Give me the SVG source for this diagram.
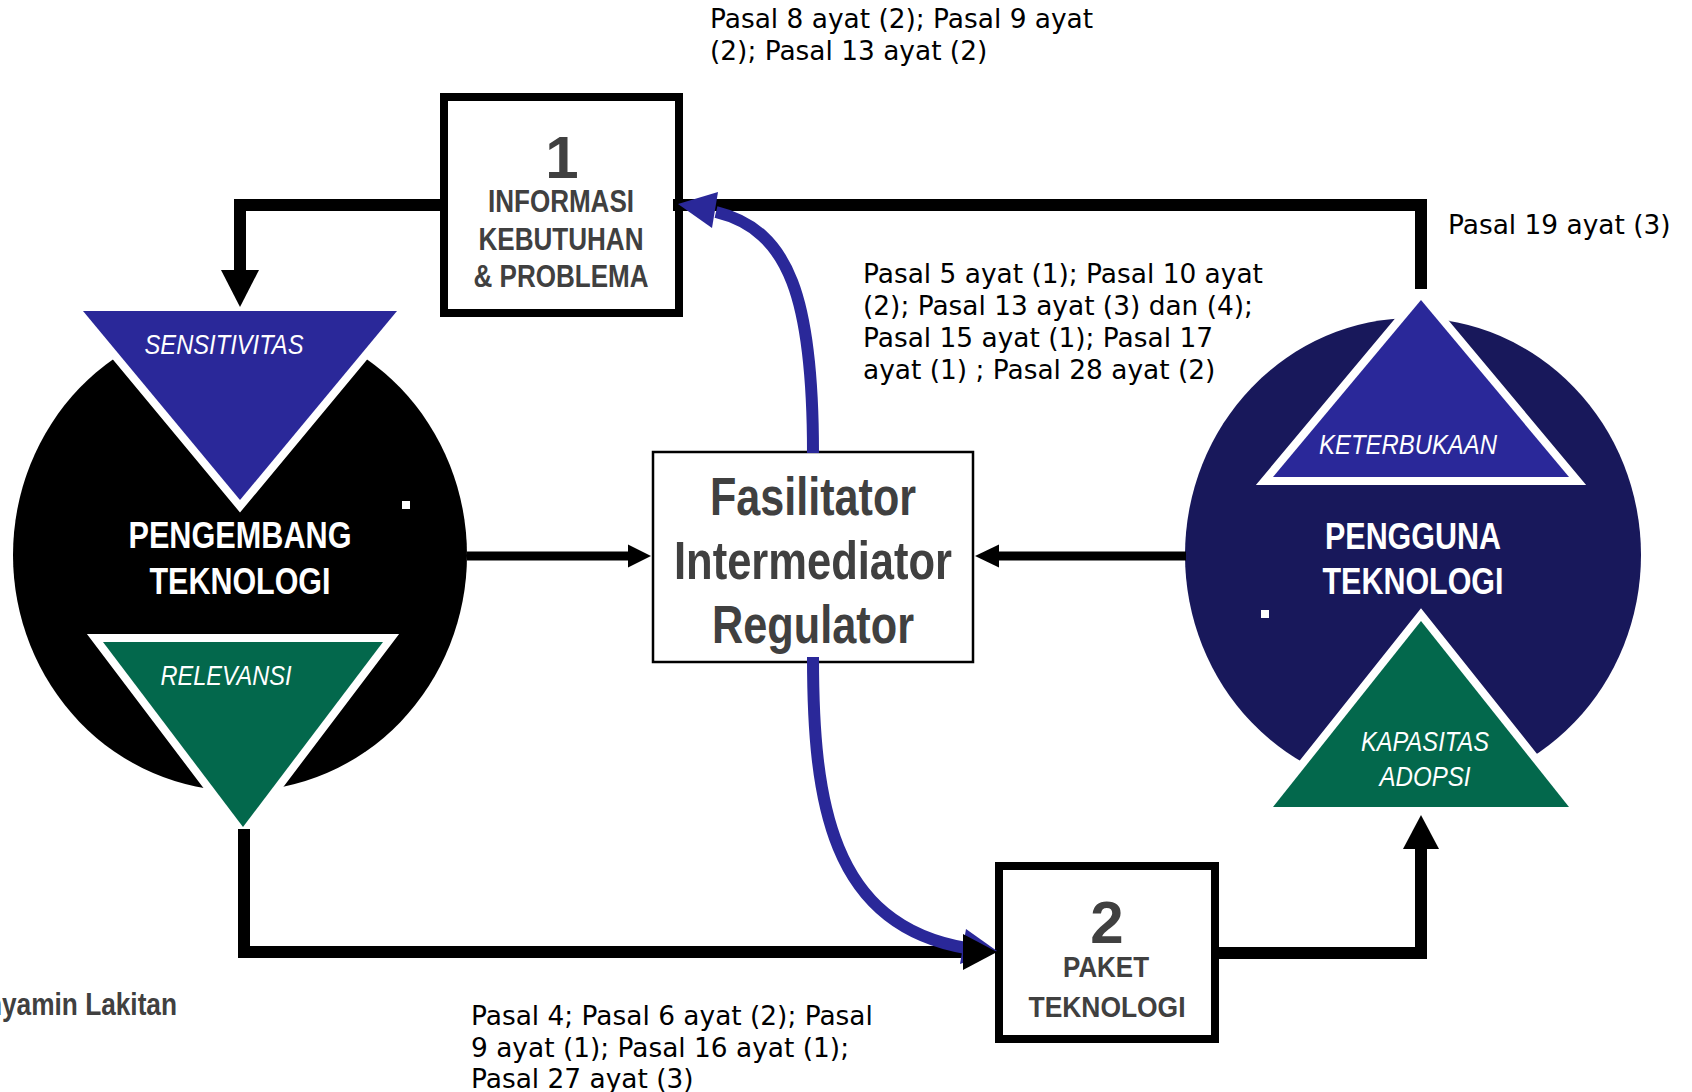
<svg xmlns="http://www.w3.org/2000/svg" width="1692" height="1092" viewBox="0 0 1692 1092">
  <style>
    .cond { font-family: 'Liberation Sans Narrow', 'Arial Narrow', 'Liberation Sans', Arial, sans-serif; font-weight: bold; text-anchor: middle; }
    .dark { fill: #404040; }
    .white { fill: #ffffff; }
    .ital { font-family: 'Liberation Sans Narrow', 'Arial Narrow', 'Liberation Sans', Arial, sans-serif; font-style: italic; fill: #ffffff; text-anchor: middle; }
    .note { font-family: 'DejaVu Sans', 'Noto Sans', sans-serif; font-size: 26.4px; fill: #000000; }
    .tri { stroke: #ffffff; stroke-width: 16; stroke-linejoin: miter; paint-order: stroke; }
    .blueTri { fill: #2a2899; }
    .greenTri { fill: #03684c; }
    .box { fill: #ffffff; stroke: #000000; stroke-width: 8; }
    .wire { fill: none; stroke: #000000; stroke-linejoin: miter; }
    .blueWire { fill: none; stroke: #2a2899; stroke-width: 12; }
  </style>

  <rect width="1692" height="1092" fill="#ffffff"/>

  <!-- Developer side -->
  <g id="pengembang">
    <ellipse cx="240" cy="555" rx="227" ry="236" fill="#000000"/>
    <rect x="402" y="501" width="8" height="8" fill="#ffffff"/>
    <text class="cond white" x="240" y="548" font-size="36" textLength="223" lengthAdjust="spacingAndGlyphs">PENGEMBANG</text>
    <text class="cond white" x="240" y="594" font-size="36" textLength="181" lengthAdjust="spacingAndGlyphs">TEKNOLOGI</text>
  </g>
  <g id="sensitivitas">
    <polygon class="tri blueTri" points="83,311 397,311 240,500"/>
    <text class="ital" x="224" y="354" font-size="27" textLength="159" lengthAdjust="spacingAndGlyphs">SENSITIVITAS</text>
  </g>
  <g id="relevansi">
    <polygon class="tri greenTri" points="103,642 383,642 243,827"/>
    <text class="ital" x="226" y="685" font-size="27" textLength="131" lengthAdjust="spacingAndGlyphs">RELEVANSI</text>
  </g>

  <!-- User side -->
  <g id="pengguna">
    <ellipse cx="1413" cy="555" rx="228" ry="237" fill="#18185b"/>
    <rect x="1261" y="610" width="8" height="8" fill="#ffffff"/>
    <text class="cond white" x="1413" y="549" font-size="36" textLength="176" lengthAdjust="spacingAndGlyphs">PENGGUNA</text>
    <text class="cond white" x="1413" y="594" font-size="36" textLength="181" lengthAdjust="spacingAndGlyphs">TEKNOLOGI</text>
  </g>
  <g id="keterbukaan">
    <polygon class="tri blueTri" points="1273,477 1569,477 1421,300"/>
    <text class="ital" x="1408" y="454" font-size="27" textLength="178" lengthAdjust="spacingAndGlyphs">KETERBUKAAN</text>
  </g>
  <g id="kapasitas-adopsi">
    <polygon class="tri greenTri" points="1273,807 1569,807 1421,621"/>
    <text class="ital" x="1425" y="751" font-size="27" textLength="128" lengthAdjust="spacingAndGlyphs">KAPASITAS</text>
    <text class="ital" x="1425" y="786" font-size="27" textLength="91" lengthAdjust="spacingAndGlyphs">ADOPSI</text>
  </g>

  <!-- Information box -->
  <g id="informasi">
    <rect class="box" x="444" y="97" width="235" height="216"/>
    <text class="cond dark" x="562" y="178" font-size="60">1</text>
    <text class="cond dark" x="561" y="212" font-size="31" textLength="146" lengthAdjust="spacingAndGlyphs">INFORMASI</text>
    <text class="cond dark" x="561" y="250" font-size="31" textLength="165" lengthAdjust="spacingAndGlyphs">KEBUTUHAN</text>
    <text class="cond dark" x="561" y="287" font-size="31" textLength="175" lengthAdjust="spacingAndGlyphs">&amp; PROBLEMA</text>
  </g>

  <!-- Intermediary box -->
  <g id="fasilitator">
    <rect x="653" y="452" width="320" height="210" fill="#ffffff" stroke="#000000" stroke-width="2.5"/>
    <text class="cond dark" x="813" y="515" font-size="53" textLength="206" lengthAdjust="spacingAndGlyphs">Fasilitator</text>
    <text class="cond dark" x="813" y="579" font-size="53" textLength="278" lengthAdjust="spacingAndGlyphs">Intermediator</text>
    <text class="cond dark" x="813" y="643" font-size="53" textLength="202" lengthAdjust="spacingAndGlyphs">Regulator</text>
  </g>

  <!-- Technology package box -->
  <g id="paket">
    <rect class="box" x="999" y="866" width="216" height="173"/>
    <text class="cond dark" x="1107" y="943" font-size="60">2</text>
    <text class="cond dark" x="1106" y="977" font-size="29" textLength="86" lengthAdjust="spacingAndGlyphs">PAKET</text>
    <text class="cond dark" x="1107" y="1017" font-size="29" textLength="157" lengthAdjust="spacingAndGlyphs">TEKNOLOGI</text>
  </g>

  <!-- Connectors -->
  <g id="connectors">
    <path class="wire" d="M448,205 H240 V272" stroke-width="12"/>
    <polygon points="221,270 259,270 240,307" fill="#000000"/>

    <path class="wire" d="M673,205 H1421 V289" stroke-width="12"/>

    <path class="blueWire" d="M813,453 C813,300 790,230 716,212"/>
    <polygon points="678,204 718,192 712,228" fill="#2a2899"/>

    <path class="wire" d="M467,556 H630" stroke-width="9"/>
    <polygon points="628,544.5 628,567.5 651,556" fill="#000000"/>

    <path class="wire" d="M1186,556 H997" stroke-width="9"/>
    <polygon points="999,544.5 999,567.5 975,556" fill="#000000"/>

    <path class="wire" d="M244,829 V952 H966" stroke-width="12"/>
    <path class="blueWire" d="M813,657 C813,800 830,925 966,948"/>
    <polygon points="997,951 966,929 960,964" fill="#2a2899"/>
    <polygon points="963,934 963,970 997,952" fill="#000000"/>

    <path class="wire" d="M1219,953 H1421 V848" stroke-width="12"/>
    <polygon points="1403,849 1439,849 1421,815" fill="#000000"/>
  </g>

  <!-- Legal references -->
  <g id="notes">
    <text class="note" x="710" y="28">Pasal 8 ayat (2); Pasal 9 ayat</text>
    <text class="note" x="710" y="60">(2); Pasal 13 ayat (2)</text>

    <text class="note" x="863" y="283">Pasal 5 ayat (1); Pasal 10 ayat</text>
    <text class="note" x="863" y="315">(2); Pasal 13 ayat (3) dan (4);</text>
    <text class="note" x="863" y="347">Pasal 15 ayat (1); Pasal 17</text>
    <text class="note" x="863" y="379">ayat (1) ; Pasal 28 ayat (2)</text>

    <text class="note" x="1448" y="234">Pasal 19 ayat (3)</text>

    <text class="note" x="471" y="1025">Pasal 4; Pasal 6 ayat (2); Pasal</text>
    <text class="note" x="471" y="1057">9 ayat (1); Pasal 16 ayat (1);</text>
    <text class="note" x="471" y="1088">Pasal 27 ayat (3)</text>
  </g>

  <text class="cond dark" x="177" y="1015" font-size="31" textLength="191" lengthAdjust="spacingAndGlyphs" style="text-anchor:end">nyamin Lakitan</text>
</svg>
